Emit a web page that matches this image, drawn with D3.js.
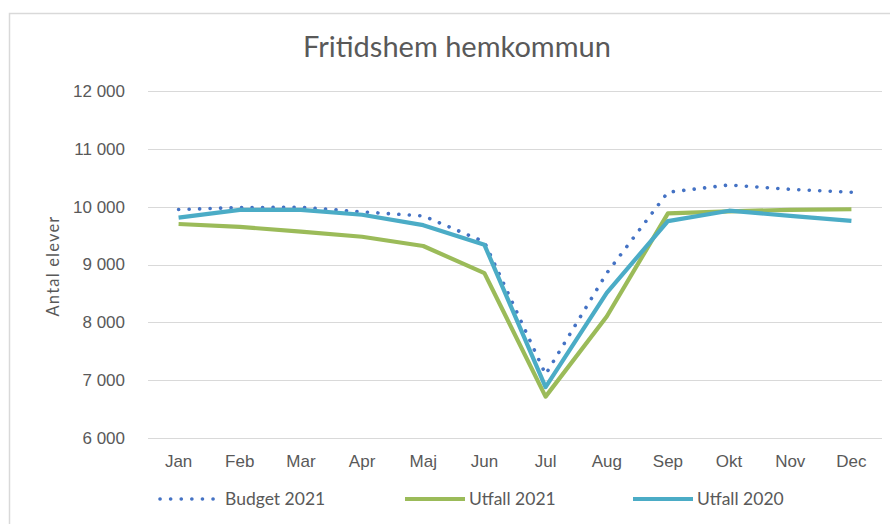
<!DOCTYPE html>
<html>
<head>
<meta charset="utf-8">
<script src="https://cdn.jsdelivr.net/npm/d3@7"></script>
<style>
  body { margin: 0; background: #fff; }
  svg { display: block; font-family: Lato, "Noto Sans", sans-serif; }
</style>
</head>
<body>
<script>
// data
var months = ["Jan", "Feb", "Mar", "Apr", "Maj", "Jun", "Jul", "Aug", "Sep", "Okt", "Nov", "Dec"];
var budget2021 = [9950, 9985, 9990, 9910, 9840, 9390, 7100, 8850, 10250, 10375, 10300, 10250];
var utfall2021 = [9700, 9650, 9570, 9480, 9320, 8850, 6715, 8100, 9885, 9920, 9945, 9955];
var utfall2020 = [9810, 9945, 9945, 9860, 9680, 9340, 6880, 8510, 9750, 9930, 9840, 9755];
var yTicks = [6000, 7000, 8000, 9000, 10000, 11000, 12000];

var series = [
  { name: "Budget 2021", values: budget2021, color: "#4472c4", dotted: true },
  { name: "Utfall 2021", values: utfall2021, color: "#9bbb59", dotted: false },
  { name: "Utfall 2020", values: utfall2020, color: "#4bacc6", dotted: false }
];

var W = 890, H = 524;
var svg = d3.select("body").append("svg").attr("width", W).attr("height", H);

// chart frame (only top and left edges show in the crop)
svg.append("path")
  .attr("d", "M9.5," + H + "V13.5H" + W)
  .attr("fill", "none")
  .attr("stroke", "#d9d9d9")
  .attr("stroke-width", 1.5);

var plotL = 148, plotR = 882, plotT = 91, plotB = 438;

var x = d3.scaleBand().domain(months).range([plotL, plotR]);
var y = d3.scaleLinear().domain([6000, 12000]).range([plotB, plotT]);

// gridlines
svg.append("g").selectAll("line").data(yTicks).join("line")
  .attr("x1", plotL).attr("x2", plotR)
  .attr("y1", function(d) { return Math.round(y(d)) + 0.5; })
  .attr("y2", function(d) { return Math.round(y(d)) + 0.5; })
  .attr("stroke", "#d9d9d9").attr("stroke-width", 1.2);

// y axis labels
var fmt = function(d) { return d3.format(",")(d).replace(",", " "); };
var yAxis = d3.axisLeft(y).tickValues(yTicks).tickSize(0).tickPadding(0).tickFormat(fmt);
var gy = svg.append("g").attr("transform", "translate(125,0)").call(yAxis);
gy.select(".domain").remove();
gy.selectAll("text").attr("fill", "#595959").attr("font-size", 17).attr("font-family", null);

// x axis labels
var xAxis = d3.axisBottom(x).tickSize(0).tickPadding(0);
var gx = svg.append("g").attr("transform", "translate(0,455)").call(xAxis);
gx.select(".domain").remove();
gx.selectAll("text").attr("fill", "#595959").attr("font-size", 17).attr("font-family", null);

// lines
var line = d3.line()
  .x(function(d, i) { return x(months[i]) + x.bandwidth() / 2; })
  .y(function(d) { return y(d); });

svg.append("g").selectAll("path").data(series).join("path")
  .attr("d", function(s) { return line(s.values); })
  .attr("fill", "none")
  .attr("stroke", function(s) { return s.color; })
  .attr("stroke-width", function(s) { return s.dotted ? 3.6 : 4.2; })
  .attr("stroke-linecap", function(s) { return s.dotted ? "round" : "butt"; })
  .attr("stroke-linejoin", "round")
  .attr("stroke-dasharray", function(s) { return s.dotted ? "0.1,10.4" : null; });

// title
svg.append("text")
  .attr("x", 457).attr("y", 57)
  .attr("text-anchor", "middle")
  .attr("font-size", 29)
  .attr("fill", "#595959")
  .text("Fritidshem hemkommun");

// y axis title
svg.append("text")
  .attr("transform", "translate(59,266) rotate(-90)")
  .attr("text-anchor", "middle")
  .attr("font-size", 16.5)
  .attr("fill", "#595959")
  .attr("letter-spacing", 1.2)
  .text("Antal elever");

// legend
var legendX = [159, 405, 633];
var lg = svg.append("g").selectAll("g").data(series).join("g")
  .attr("transform", function(s, i) { return "translate(" + legendX[i] + ",499)"; });
lg.append("line")
  .attr("x1", function(s) { return s.dotted ? 1 : 0; })
  .attr("x2", function(s) { return s.dotted ? 55 : 60; })
  .attr("stroke", function(s) { return s.color; })
  .attr("stroke-width", function(s) { return s.dotted ? 3.6 : 4.2; })
  .attr("stroke-linecap", function(s) { return s.dotted ? "round" : "butt"; })
  .attr("stroke-dasharray", function(s) { return s.dotted ? "0.1,10.5" : null; });
lg.append("text")
  .attr("x", function(s) { return s.dotted ? 66 : 64; })
  .attr("dy", "0.35em")
  .attr("font-size", 17.5)
  .attr("fill", "#595959")
  .text(function(s) { return s.name; });
</script>
</body>
</html>
